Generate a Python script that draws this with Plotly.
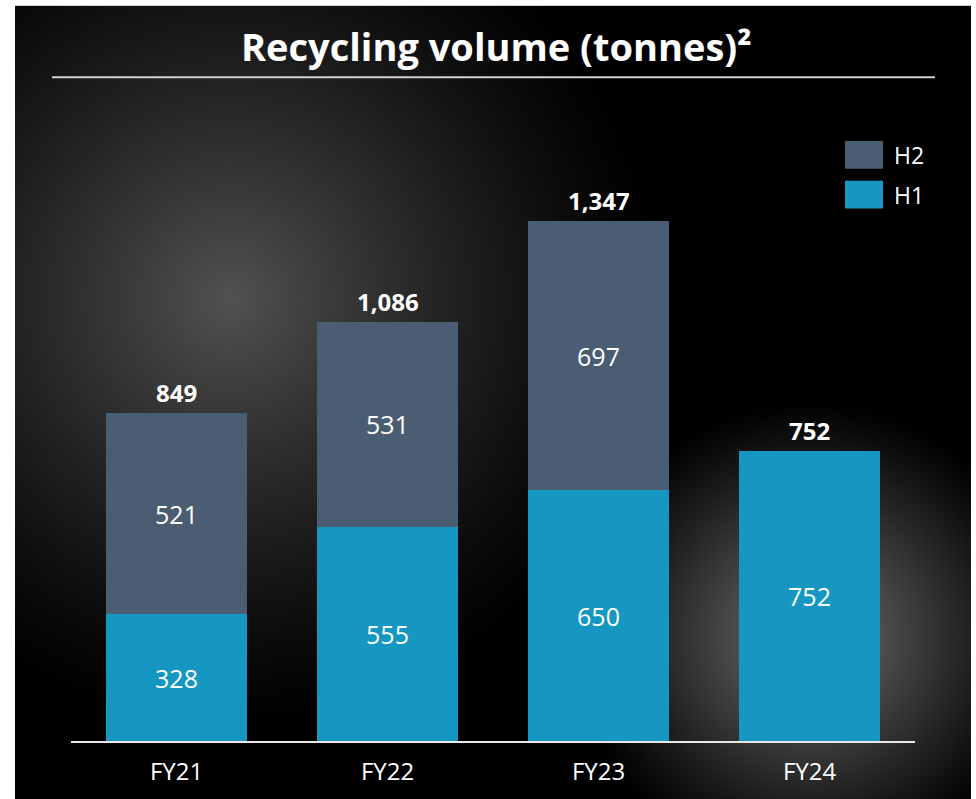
import base64, struct, zlib
import numpy as np
import plotly.graph_objects as go

# ---------------- data ----------------
categories = ["FY21", "FY22", "FY23", "FY24"]
h1_values = [328, 555, 650, 752]
h2_values = [521, 531, 697, None]
totals = [849, 1086, 1347, 752]
series_names = ["H2", "H1"]
title_text = "Recycling volume (tonnes)²"

# ---------------- styling ----------------
W, H = 976, 799
BASE_Y = 745                 # baseline y in pixels
ML = 71
MR = W - 915
MB = H - BASE_Y
MT = 130
PW, PH = W - ML - MR, H - MT - MB
COL_H1 = "#1597C1"
COL_H2 = "#4A5D72"
FONT = "Open Sans"


def px_x(px):
    """pixel x -> paper coordinate"""
    return (px - ML) / PW


def px_y(py):
    """pixel y -> paper coordinate"""
    return (BASE_Y - py) / PH


def png_uri(arr):
    h, w, _ = arr.shape
    raw = b"".join(b"\x00" + arr[j].tobytes() for j in range(h))

    def chunk(tag, data):
        c = tag + data
        return struct.pack(">I", len(data)) + c + struct.pack(">I", zlib.crc32(c) & 0xFFFFFFFF)

    png = b"\x89PNG\r\n\x1a\n" + chunk(b"IHDR", struct.pack(">IIBBBBB", w, h, 8, 2, 0, 0, 0)) \
        + chunk(b"IDAT", zlib.compress(raw, 9)) + chunk(b"IEND", b"")
    return "data:image/png;base64," + base64.b64encode(png).decode()


# background panel with two soft glows
px0, py0, px1, py1 = 15, 5, 971, 815
gw, gh = 478, 405
xs = px0 + (np.arange(gw) + 0.5) * (px1 - px0) / gw
ys = py0 + (np.arange(gh) + 0.5) * (py1 - py0) / gh
X, Y = np.meshgrid(xs, ys)
d1 = np.hypot(X - 230, Y - 300)
d2 = np.hypot(X - 810, Y - 640)
g = 82 * np.clip(1 - d1 / 440, 0, 1) ** 1.25 + 115 * np.clip(1 - d2 / 240, 0, 1) ** 1.1
g = np.clip(g, 0, 255).astype(np.uint8)
img = np.stack([g, g, g], axis=-1)
bg_uri = png_uri(img)

fig = go.Figure()
fig.add_trace(go.Bar(
    x=categories, y=h1_values, name=series_names[1], marker_color=COL_H1,
    marker_line_width=0, text=h1_values, texttemplate="%{y}", textposition="inside",
    insidetextanchor="middle", textangle=0,
    textfont=dict(family=FONT, size=25, color="white"), showlegend=False,
))
fig.add_trace(go.Bar(
    x=categories, y=h2_values, name=series_names[0], marker_color=COL_H2,
    marker_line_width=0, text=h2_values, texttemplate="%{y}", textposition="inside",
    insidetextanchor="middle", textangle=0,
    textfont=dict(family=FONT, size=25, color="white"), showlegend=False,
))

annotations = []
for c, t in zip(categories, totals):
    annotations.append(dict(
        x=c, y=t, xref="x", yref="y", text=f"<b>{t:,}</b>", showarrow=False,
        yanchor="bottom", yshift=2, font=dict(family=FONT, size=24, color="white"),
    ))

# title
annotations.append(dict(
    x=px_x(496), y=px_y(45), xref="paper", yref="paper", text=f"<b>{title_text}</b>",
    showarrow=False, xanchor="center", yanchor="middle",
    font=dict(family=FONT, size=38, color="white"),
))

shapes = [
    dict(type="line", xref="paper", yref="paper", x0=px_x(52), x1=px_x(935),
         y0=px_y(77), y1=px_y(77), line=dict(color="#d0d0d0", width=2)),
]
# legend (custom swatches)
leg = [(series_names[0], COL_H2, 141, 169), (series_names[1], COL_H1, 181, 209)]
for name, col, y0, y1 in leg:
    shapes.append(dict(type="rect", xref="paper", yref="paper", x0=px_x(845), x1=px_x(883),
                       y0=px_y(y1), y1=px_y(y0), fillcolor=col, line=dict(width=0)))
    annotations.append(dict(x=px_x(892), y=px_y((y0 + y1) / 2), xref="paper", yref="paper",
                            text=name, showarrow=False, xanchor="left", yanchor="middle",
                            font=dict(family=FONT, size=23, color="white")))

fig.update_layout(
    width=W, height=H,
    margin=dict(l=ML, r=MR, t=MT, b=MB, pad=0),
    paper_bgcolor="white", plot_bgcolor="rgba(0,0,0,0)",
    barmode="stack", bargap=0.333,
    showlegend=False, hovermode=False,
    annotations=annotations, shapes=shapes,
    images=[dict(source=bg_uri, xref="paper", yref="paper",
                 x=px_x(px0), y=px_y(py0), sizex=(px1 - px0) / PW, sizey=(py1 - py0) / PH,
                 xanchor="left", yanchor="top", sizing="stretch", layer="below")],
    font=dict(family=FONT, color="white"),
)
fig.update_xaxes(range=[-0.5, 3.5], showline=True, linecolor="#e8e8e8", linewidth=2,
                 ticks="", showgrid=False, zeroline=False, ticklabelstandoff=8,
                 tickfont=dict(family=FONT, size=24, color="white"))
fig.update_yaxes(range=[0, PH / 0.3883], visible=False, showgrid=False, zeroline=False)

fig.write_html(
    "out.html",
    config={"displayModeBar": False},
    post_script="document.body.style.margin='0px';document.body.style.overflow='hidden';",
)
